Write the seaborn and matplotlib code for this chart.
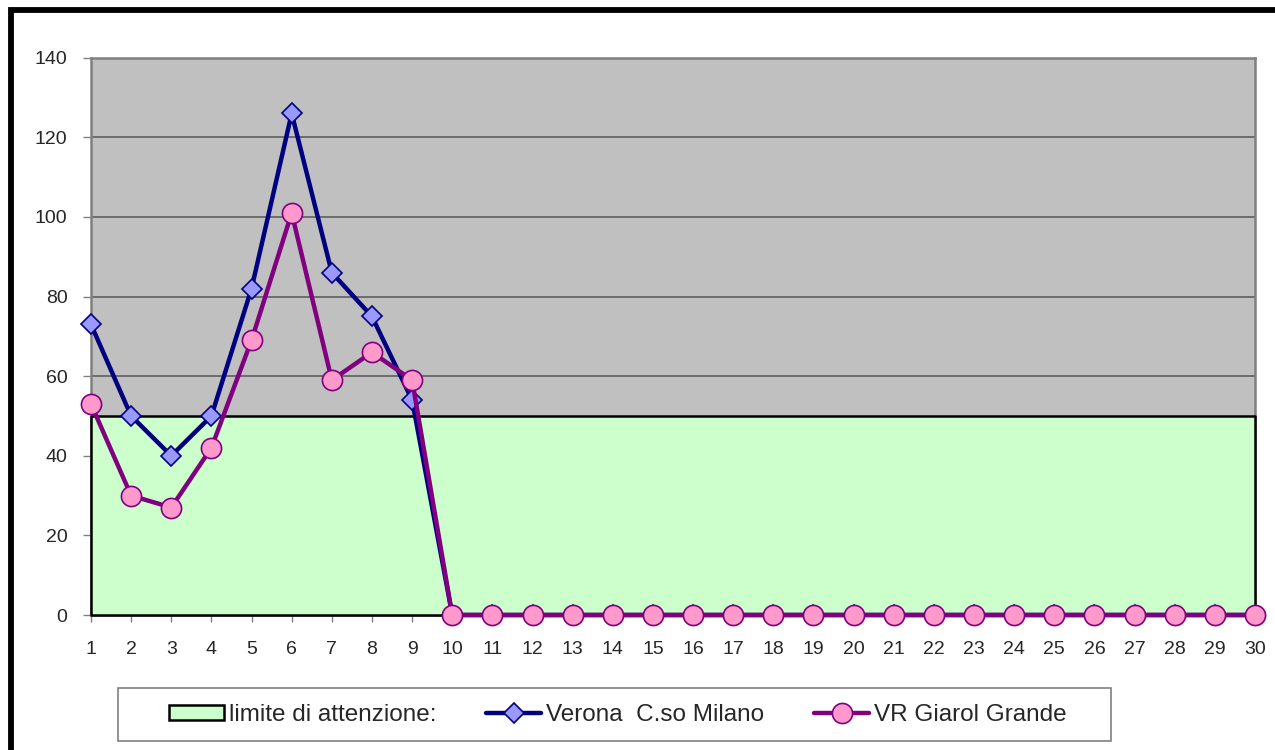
## Daily values for two Verona stations against the attention limit
import numpy as np
import pandas as pd
import seaborn as sns
import matplotlib.pyplot as plt
from matplotlib.patches import Rectangle, Patch

# days of the month
days = list(range(1, 31))
# Verona C.so Milano
verona = [73, 50, 40, 50, 82, 126, 86, 75, 54] + [0] * 21
# VR Giarol Grande
giarol = [53, 30, 27, 42, 69, 101, 59, 66, 59] + [0] * 21
# attention limit
limite = [50] * 30

labels = ["limite di attenzione:", "Verona  C.so Milano", "VR Giarol Grande"]
yticks = [0, 20, 40, 60, 80, 100, 120, 140]

sns.set_style("white")
plt.rcParams['font.family'] = ['Liberation Sans', 'DejaVu Sans']

fig = plt.figure(figsize=(12.75, 7.5), dpi=100)
ax = fig.add_axes([91 / 1275, 1 - 615 / 750, (1255 - 91) / 1275, (615 - 57.7) / 750])
ax.set_facecolor('#C0C0C0')

# green area for the limit
ax.fill_between(days, 0, limite, facecolor='#CCFFCC', edgecolor='black',
                linewidth=1.8, zorder=2.6, clip_on=False)

sns.lineplot(x=days, y=verona, ax=ax, color='#000080', linewidth=3.2,
             marker='D', markersize=10.5, markerfacecolor='#9999FF',
             markeredgecolor='#000080', markeredgewidth=1.2, zorder=3,
             clip_on=False)
sns.lineplot(x=days, y=giarol, ax=ax, color='#800080', linewidth=3.2,
             marker='o', markersize=14.5, markerfacecolor='#FF99CC',
             markeredgecolor='#800080', markeredgewidth=1.2, zorder=4,
             clip_on=False)
if ax.get_legend() is not None:
    ax.get_legend().remove()

ax.set_xlim(1, 30)
ax.set_ylim(0, 140)
ax.set_xticks(days)
ax.set_yticks(yticks)
ax.set_axisbelow(True)
ax.yaxis.grid(True, color='#555555', linewidth=1.1)
ax.xaxis.grid(False)
for s in ax.spines.values():
    s.set_color('#808080')
    s.set_linewidth(1.8)
ax.tick_params(axis='y', direction='out', length=6, width=1, color='#808080',
               labelsize=14, pad=11, left=True)
ax.tick_params(axis='x', direction='out', length=5, width=1, color='#808080',
               labelsize=14, pad=14, bottom=True)

# legend box and entries
fig.add_artist(Rectangle((118 / 1275, 1 - 741 / 750), (1111 - 118) / 1275, (741 - 688) / 750,
                         transform=fig.transFigure, facecolor='white',
                         edgecolor='#808080', linewidth=1.2))
handles = [Patch(facecolor='#CCFFCC', edgecolor='black', linewidth=1.8),
           ax.get_lines()[0], ax.get_lines()[1]]
fig.legend(handles, labels, loc='center', bbox_to_anchor=(618 / 1275, 1 - 715 / 750),
           ncol=3, frameon=False, fontsize=17.5, handlelength=2.26,
           handleheight=0.55, handletextpad=0.2, columnspacing=2.05)

# outer chart border
fig.add_artist(Rectangle((10.5 / 1275, -0.1), 1.2, 1 - 10.5 / 750 + 0.1,
                         transform=fig.transFigure, fill=False,
                         edgecolor='black', linewidth=4.2))

plt.savefig('out.png', dpi=100)
plt.close()
